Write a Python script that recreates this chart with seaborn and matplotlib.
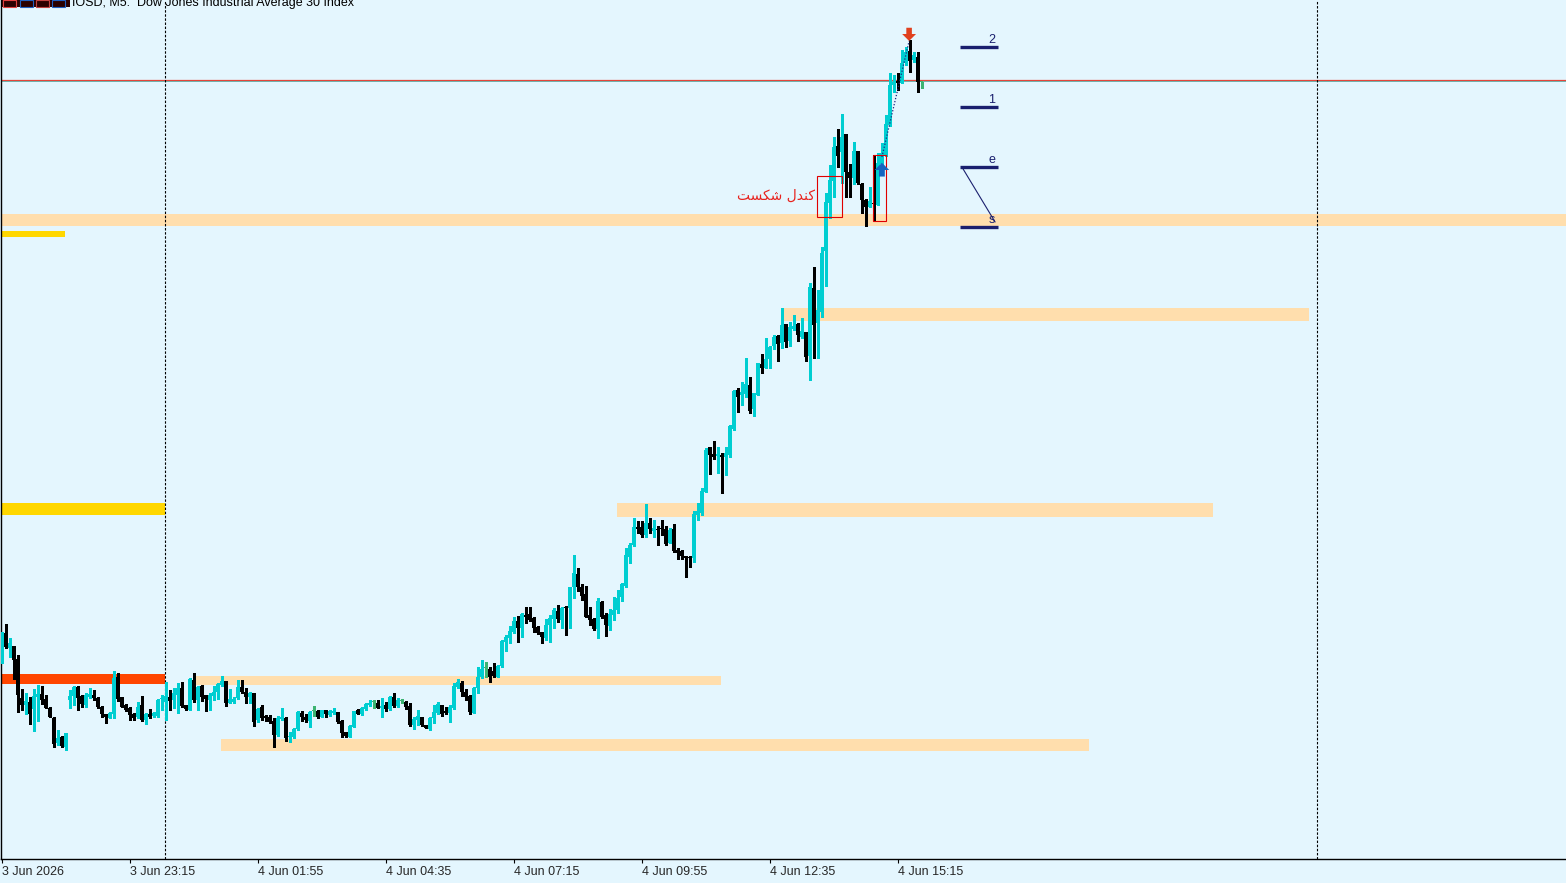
import numpy as np
import pandas as pd
import matplotlib
matplotlib.use('Agg')
import matplotlib.pyplot as plt
from matplotlib.patches import Rectangle
from matplotlib.path import Path
import seaborn as sns

# US30 M5 candles, prices in chart points
opens = [340, 367, 352, 354, 341, 302, 295, 298, 291, 303, 306, 301, 292, 282, 257, 263, 253, 300, 304, 313,
         304, 295, 303, 305, 302, 293, 286, 282, 286, 323, 303, 295, 292, 286, 283, 295, 280, 286, 284, 284,
         301, 298, 303, 300, 305, 312, 295, 290, 320, 300, 314, 305, 300, 304, 308, 315, 319, 297, 298, 302,
         313, 308, 303, 307, 280, 293, 284, 283, 279, 265, 281, 282, 263, 263, 271, 287, 283, 279, 289, 289,
         283, 290, 285, 287, 288, 279, 268, 263, 273, 290, 286, 291, 295, 298, 297, 292, 295, 291, 303, 294,
         299, 298, 294, 275, 280, 283, 275, 271, 282, 287, 295, 289, 287, 292, 313, 317, 308, 304, 287, 312,
         323, 332, 331, 329, 323, 334, 358, 362, 368, 379, 372, 385, 386, 382, 373, 368, 362, 375, 381, 389,
         380, 393, 392, 413, 426, 413, 406, 385, 381, 371, 398, 385, 374, 385, 390, 403, 414, 443, 455, 473,
         473, 465, 477, 469, 471, 472, 471, 457, 471, 450, 449, 444, 443, 442, 485, 487, 508, 553, 546, 544,
         545, 543, 545, 571, 610, 605, 606, 615, 591, 605, 636, 632, 641, 654, 664, 657, 676, 659, 671, 676,
         663, 668, 644, 712, 677, 688, 749, 797, 819, 854, 848, 866, 828, 822, 849, 816, 800, 793, 797, 795,
         836, 845, 875, 915, 919, 917, 937, 949, 940, 943, 918]
highs = [368, 376, 362, 354, 345, 311, 307, 303, 311, 315, 314, 305, 293, 283, 270, 264, 267, 310, 314, 314,
         305, 307, 312, 310, 303, 294, 286, 288, 329, 327, 303, 296, 293, 287, 298, 304, 287, 291, 288, 301,
         305, 318, 310, 312, 317, 318, 295, 322, 327, 314, 315, 305, 307, 314, 317, 324, 319, 311, 303, 320,
         320, 312, 308, 307, 292, 295, 285, 285, 282, 284, 292, 283, 268, 272, 289, 289, 286, 289, 294, 290,
         290, 290, 290, 292, 288, 280, 268, 275, 289, 291, 293, 297, 300, 300, 300, 302, 298, 304, 307, 302,
         301, 299, 297, 283, 290, 283, 275, 283, 295, 298, 295, 293, 295, 317, 321, 319, 311, 305, 313, 333,
         340, 338, 333, 337, 335, 360, 365, 374, 383, 384, 387, 393, 393, 383, 374, 368, 381, 385, 392, 395,
         393, 394, 413, 445, 432, 416, 414, 393, 382, 402, 399, 387, 391, 403, 410, 417, 452, 457, 482, 479,
         479, 496, 482, 480, 474, 480, 474, 472, 476, 452, 450, 444, 444, 489, 497, 512, 552, 553, 559, 553,
         547, 553, 575, 610, 612, 618, 642, 623, 607, 637, 646, 662, 654, 665, 665, 692, 676, 678, 685, 677,
         682, 668, 717, 733, 710, 753, 807, 835, 863, 871, 886, 866, 836, 858, 849, 817, 801, 813, 845, 847,
         857, 885, 927, 925, 927, 950, 953, 960, 948, 948, 918]
lows = [337, 352, 343, 321, 288, 290, 286, 276, 269, 279, 296, 292, 283, 253, 255, 253, 250, 292, 295, 290,
        293, 293, 302, 300, 292, 283, 277, 282, 282, 299, 293, 289, 280, 280, 282, 279, 276, 282, 283, 283,
        290, 280, 290, 292, 287, 293, 290, 290, 298, 290, 299, 289, 290, 300, 301, 314, 294, 297, 297, 301,
        307, 297, 297, 274, 278, 280, 279, 277, 253, 264, 280, 259, 258, 262, 270, 279, 278, 273, 284, 282,
        283, 283, 284, 286, 277, 263, 263, 263, 273, 286, 285, 290, 294, 292, 292, 283, 289, 290, 293, 293,
        297, 291, 274, 271, 275, 274, 272, 270, 277, 286, 284, 286, 278, 291, 312, 304, 300, 286, 287, 307,
        322, 323, 318, 323, 323, 333, 349, 357, 367, 358, 363, 377, 379, 368, 366, 357, 360, 358, 372, 378,
        372, 365, 372, 402, 409, 400, 383, 375, 370, 362, 382, 364, 370, 380, 387, 399, 413, 437, 454, 467,
        463, 463, 467, 463, 455, 465, 455, 457, 448, 441, 441, 423, 433, 438, 480, 485, 508, 526, 541, 527,
        507, 525, 543, 570, 588, 595, 603, 587, 584, 605, 627, 632, 632, 651, 639, 652, 653, 654, 670, 659,
        662, 639, 620, 642, 642, 683, 714, 782, 803, 833, 817, 803, 803, 816, 816, 787, 774, 793, 780, 795,
        835, 844, 874, 908, 910, 917, 935, 928, 938, 908, 912]
closes = [366, 353, 357, 340, 305, 295, 299, 286, 304, 306, 300, 292, 283, 256, 262, 254, 267, 304, 313, 302,
          296, 305, 306, 302, 293, 286, 283, 287, 322, 301, 293, 290, 285, 282, 293, 280, 286, 283, 287, 300,
          302, 304, 299, 307, 312, 294, 291, 321, 300, 313, 303, 301, 305, 308, 316, 319, 297, 301, 301, 313,
          308, 303, 307, 278, 291, 282, 282, 278, 265, 282, 283, 262, 264, 271, 288, 283, 280, 288, 289, 283,
          290, 286, 289, 289, 278, 267, 264, 274, 289, 286, 292, 296, 297, 298, 292, 294, 291, 303, 294, 300,
          299, 293, 275, 281, 284, 275, 272, 282, 288, 296, 286, 287, 293, 314, 318, 308, 303, 288, 312, 323,
          331, 332, 323, 324, 334, 359, 363, 369, 379, 372, 386, 383, 380, 372, 367, 363, 375, 382, 390, 381,
          392, 392, 413, 427, 413, 404, 383, 380, 371, 399, 383, 375, 386, 390, 402, 416, 445, 455, 473, 471,
          465, 477, 471, 472, 470, 471, 456, 470, 449, 447, 444, 442, 442, 486, 489, 509, 550, 545, 543, 546,
          543, 547, 574, 609, 603, 608, 616, 589, 607, 637, 632, 641, 653, 663, 656, 675, 658, 673, 674, 665,
          669, 643, 713, 675, 690, 747, 798, 820, 853, 844, 863, 828, 822, 849, 817, 800, 793, 799, 796, 837,
          847, 876, 915, 918, 917, 937, 948, 939, 945, 918, 918]

tick_bars = [0, 32, 64, 96, 128, 160, 192, 224]
tick_labels = ['3 Jun 2026', '3 Jun 23:15', '4 Jun 01:55', '4 Jun 04:35',
               '4 Jun 07:15', '4 Jun 09:55', '4 Jun 12:35', '4 Jun 15:15']

# supply / demand zones (start bar, end bar, low, high)
zone_start = [-1, 194.9, 153.9, 47.9, 54.9]
zone_end = [400, 326.9, 302.9, 179.9, 271.9]
zone_low = [774, 679, 483, 315, 249]
zone_high = [786, 692, 497, 324, 261]

# previous day levels
day_start = [-1, -1, -1]
day_end = [40.9, 15.9, 40.9]
day_low = [316, 763, 485]
day_high = [326, 769, 497]
day_colors = ['#FF4500', '#FFD700', '#FFD700']

day_separators = [40.9, 328.9]
hline_price = 920
bid_price = 918.7

# wave labels on the right
level_names = ['2', '1', 'e', 's']
level_prices = [953, 893, 833, 773]

bg = '#E4F6FE'
cyan = '#00CED1'
navy = '#1A1F6E'

sns.set_style('white', {'axes.facecolor': bg, 'figure.facecolor': bg})
plt.rcParams['font.family'] = ['Liberation Sans', 'DejaVu Sans']

df = pd.DataFrame({'open': opens, 'high': highs, 'low': lows, 'close': closes})
df['bar'] = np.arange(len(df))
df['color'] = np.where(df['close'] > df['open'], cyan,
                       np.where(df['close'] < df['open'], 'black', '#3CB371'))

fig = plt.figure(figsize=(15.66, 8.83), dpi=100)
ax = fig.add_axes([1 / 1566, 24 / 883, 1565 / 1566, 859 / 883])

# zones
for x0, x1, lo, hi in zip(zone_start, zone_end, zone_low, zone_high):
    ax.add_patch(Rectangle((x0, lo), x1 - x0, hi - lo, color='#FFDEAD', lw=0, zorder=1))
for x0, x1, lo, hi, c in zip(day_start, day_end, day_low, day_high, day_colors):
    ax.add_patch(Rectangle((x0, lo), x1 - x0, hi - lo, color=c, lw=0, zorder=1))

ax.axhline(hline_price, color='#E5453A', lw=0.9, zorder=2)
ax.axhline(bid_price, color='#5FA8A0', lw=0.6, zorder=2)
for sep in day_separators:
    ax.axvline(sep, color='black', lw=0.8, dashes=(2.2, 1.5), zorder=2)

# candles
ax.vlines(df['bar'], df['low'], df['high'], colors=df['color'], lw=0.8, zorder=3, antialiased=False)
body_bottom = df[['open', 'close']].min(axis=1)
body_height = (df['close'] - df['open']).abs().clip(lower=1)
ax.bar(df['bar'], body_height, bottom=body_bottom, width=0.75, color=df['color'],
       linewidth=0, zorder=4, antialiased=False)

# breakout boxes
ax.add_patch(Rectangle((203.9, 783), 6.2, 41, fill=False, ec='#E00000', lw=0.8, zorder=5))
ax.add_patch(Rectangle((217.9, 779), 3.2, 66, fill=False, ec='#E00000', lw=0.8, zorder=5))
ax.text(193.6, 804, '\uFE96\uFEB4\uFB91\uFEB7 \uFEDD\uFEAA\uFEE8\uFB90', color='#E8231E',
        fontsize=10, ha='center', va='center', family=['DejaVu Sans'], zorder=6)

# signal arrows
up_arrow = Path([(-1, 0), (0, 1), (1, 0), (0.4, 0), (0.4, -0.9), (-0.4, -0.9), (-0.4, 0), (-1, 0)])
down_arrow = Path([(-1, 0), (0, -1), (1, 0), (0.4, 0), (0.4, 0.9), (-0.4, 0.9), (-0.4, 0), (-1, 0)])
sns.lineplot(x=[220.1, 226.9], y=[843, 959], ax=ax, color='#1A237E', lw=0.9,
             linestyle=(0, (1, 1.5)), zorder=6)
sns.scatterplot(x=[220.1], y=[830], ax=ax, marker=up_arrow, s=110, color='#1565C0',
                edgecolor='none', zorder=8)
sns.scatterplot(x=[226.9], y=[966], ax=ax, marker=down_arrow, s=100, color='#E0401E',
                edgecolor='none', zorder=8)

# wave levels
ax.hlines(level_prices, 239.6, 249.1, color=navy, lw=2.4, zorder=5)
for name, p in zip(level_names, level_prices):
    ax.text(247.6, p + 7, name, color=navy, fontsize=9, ha='center', va='center', zorder=6)
ax.plot([240.1, 248.4], [833, 778], color=navy, lw=0.8, zorder=5)

ax.set_xlim(-0.125, 391.125)
ax.set_ylim(141, 1000)
ax.set_yticks([])
ax.set_xticks(tick_bars)
ax.set_xticklabels(tick_labels, fontsize=9)
for lab in ax.get_xticklabels():
    lab.set_ha('left')
ax.tick_params(axis='x', direction='out', length=3, width=0.8, color='black', pad=2, bottom=True)
for side in ['top', 'right']:
    ax.spines[side].set_visible(False)
for side in ['left', 'bottom']:
    ax.spines[side].set_color('black')
    ax.spines[side].set_linewidth(1.0)

# header
fig.patches.append(Rectangle((2 / 1566, 1 - 7 / 883), 68 / 1566, 7 / 883, transform=fig.transFigure,
                             color='#2B0000', lw=0))
for x0, c in zip([3, 20, 36, 52], ['#E04040', '#2060C0', '#C04040', '#2060C0']):
    fig.patches.append(Rectangle((x0 / 1566, 1 - 7 / 883), 13 / 1566, 7 / 883, transform=fig.transFigure,
                                 fill=False, ec=c, lw=0.8))
fig.text(72 / 1566, 1 - 6 / 883, 'IOSD, M5:  Dow Jones Industrial Average 30 Index',
         fontsize=9, ha='left', va='baseline', color='black')

fig.savefig('out.png', dpi=100, facecolor=bg)
